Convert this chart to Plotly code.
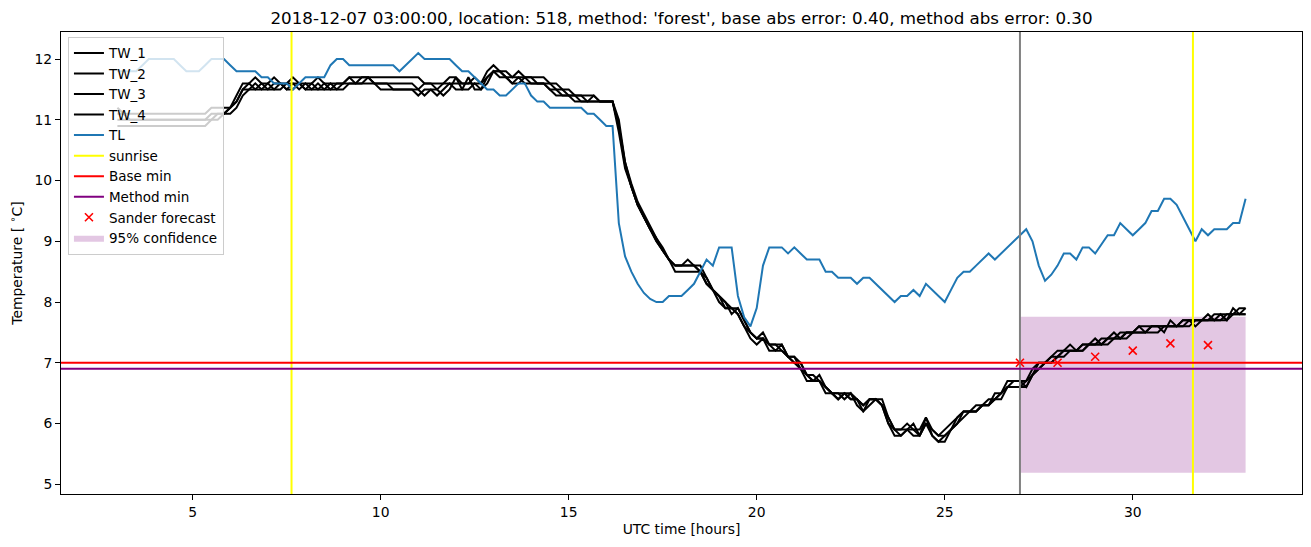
import numpy as np
import plotly.graph_objects as go

# ---------------- data ----------------
# 10-minute sampling grid, 03:00 .. 33:00 UTC hours
hours = np.round(3 + np.arange(181) / 6.0, 4)

tl = [
    11.8, 11.8, 11.8, 11.8, 11.9, 12.0,   # 3
    12.0, 12.0, 12.0, 12.0, 11.9, 11.8,   # 4
    11.8, 11.8, 11.9, 12.0, 12.0, 12.0,   # 5
    11.9, 11.8, 11.8, 11.8, 11.8, 11.7,   # 6
    11.7, 11.6, 11.6, 11.6, 11.5, 11.6,   # 7
    11.7, 11.7, 11.7, 11.7, 11.9, 12.0,   # 8
    12.0, 11.9, 11.9, 11.9, 11.9, 11.9,   # 9
    11.9, 11.9, 11.9, 11.8, 11.9, 12.0,   # 10
    12.1, 12.0, 12.0, 12.0, 12.0, 12.0,   # 11
    11.9, 11.8, 11.8, 11.7, 11.6, 11.5,   # 12
    11.5, 11.4, 11.4, 11.5, 11.6, 11.6,   # 13
    11.4, 11.3, 11.3, 11.2, 11.2, 11.2,   # 14
    11.2, 11.2, 11.2, 11.1, 11.1, 11.0,   # 15
    10.9, 10.9, 9.3, 8.75, 8.5, 8.3,      # 16
    8.15, 8.05, 8.0, 8.0, 8.1, 8.1,       # 17
    8.1, 8.2, 8.3, 8.5, 8.7, 8.6,         # 18
    8.9, 8.9, 8.9, 8.1, 7.75, 7.6,        # 19
    7.9, 8.6, 8.9, 8.9, 8.9, 8.8,         # 20
    8.9, 8.8, 8.7, 8.7, 8.7, 8.5,         # 21
    8.5, 8.4, 8.4, 8.4, 8.3, 8.4,         # 22
    8.4, 8.3, 8.2, 8.1, 8.0, 8.1,         # 23
    8.1, 8.2, 8.1, 8.3, 8.2, 8.1,         # 24
    8.0, 8.2, 8.4, 8.5, 8.5, 8.6,         # 25
    8.7, 8.8, 8.7, 8.8, 8.9, 9.0,         # 26
    9.1, 9.2, 9.0, 8.6, 8.35, 8.45,       # 27
    8.6, 8.8, 8.8, 8.7, 8.9, 8.9,         # 28
    8.8, 8.95, 9.1, 9.1, 9.3, 9.2,        # 29
    9.1, 9.2, 9.3, 9.5, 9.5, 9.7,         # 30
    9.7, 9.6, 9.4, 9.2, 9.0, 9.2,         # 31
    9.1, 9.2, 9.2, 9.2, 9.3, 9.3,         # 32
    9.7,                                  # 33
]

tw_1 = [
    11.2, 11.1, 11.1, 11.1, 11.1, 11.1,
    11.1, 11.1, 11.1, 11.1, 11.1, 11.1,
    11.1, 11.1, 11.1, 11.2, 11.2, 11.2,
    11.2, 11.4, 11.6, 11.6, 11.7, 11.6,
    11.6, 11.7, 11.6, 11.6, 11.7, 11.6,
    11.6, 11.6, 11.7, 11.6, 11.6, 11.6,
    11.6, 11.7, 11.7, 11.7, 11.7, 11.7,
    11.7, 11.7, 11.7, 11.7, 11.7, 11.7,
    11.7, 11.6, 11.6, 11.6, 11.6, 11.7,
    11.7, 11.6, 11.6, 11.7, 11.6, 11.8,
    11.9, 11.8, 11.8, 11.7, 11.8, 11.7,
    11.7, 11.7, 11.7, 11.6, 11.6, 11.5,
    11.5, 11.4, 11.4, 11.4, 11.4, 11.3,
    11.3, 11.3, 11.0, 10.3, 9.9, 9.6,
    9.4, 9.2, 9.0, 8.85, 8.7, 8.6,
    8.6, 8.6, 8.6, 8.5, 8.3, 8.2,
    8.1, 8.0, 7.9, 7.9, 7.7, 7.5,
    7.4, 7.5, 7.3, 7.3, 7.3, 7.1,
    7.1, 6.9, 6.7, 6.7, 6.8, 6.6,
    6.5, 6.4, 6.5, 6.5, 6.4, 6.3,
    6.4, 6.4, 6.4, 6.1, 5.9, 5.9,
    6.0, 5.9, 5.9, 6.1, 5.9, 5.8,
    5.9, 6.0, 6.1, 6.2, 6.2, 6.2,
    6.3, 6.3, 6.5, 6.5, 6.7, 6.7,
    6.7, 6.7, 6.9, 7.0, 7.0, 7.1,
    7.2, 7.2, 7.2, 7.2, 7.3, 7.3,
    7.3, 7.4, 7.4, 7.4, 7.5, 7.5,
    7.5, 7.6, 7.6, 7.6, 7.6, 7.6,
    7.6, 7.6, 7.7, 7.7, 7.7, 7.7,
    7.7, 7.8, 7.8, 7.8, 7.8, 7.9,
    7.9,
]

tw_2 = [
    11.1, 11.1, 11.0, 11.0, 11.0, 11.0,
    11.0, 11.0, 11.0, 11.0, 11.0, 11.0,
    11.0, 11.0, 11.0, 11.1, 11.1, 11.1,
    11.2, 11.3, 11.5, 11.6, 11.5, 11.6,
    11.5, 11.6, 11.6, 11.5, 11.6, 11.6,
    11.5, 11.6, 11.5, 11.5, 11.6, 11.5,
    11.6, 11.6, 11.6, 11.7, 11.7, 11.6,
    11.6, 11.6, 11.6, 11.6, 11.6, 11.6,
    11.5, 11.6, 11.6, 11.5, 11.6, 11.6,
    11.6, 11.6, 11.6, 11.6, 11.6, 11.7,
    11.8, 11.8, 11.7, 11.7, 11.7, 11.7,
    11.7, 11.6, 11.6, 11.6, 11.5, 11.5,
    11.4, 11.4, 11.4, 11.3, 11.3, 11.3,
    11.3, 11.3, 10.9, 10.3, 9.95, 9.65,
    9.45, 9.25, 9.05, 8.9, 8.7, 8.6,
    8.6, 8.6, 8.6, 8.6, 8.4, 8.2,
    8.1, 7.9, 7.9, 7.8, 7.6, 7.5,
    7.4, 7.4, 7.3, 7.2, 7.3, 7.1,
    7.0, 7.0, 6.8, 6.7, 6.7, 6.6,
    6.5, 6.5, 6.5, 6.4, 6.4, 6.3,
    6.4, 6.4, 6.3, 6.0, 5.9, 5.9,
    5.9, 5.9, 5.8, 6.0, 5.9, 5.8,
    5.8, 5.9, 6.1, 6.2, 6.2, 6.2,
    6.3, 6.3, 6.4, 6.5, 6.6, 6.6,
    6.6, 6.7, 6.8, 7.0, 7.0, 7.0,
    7.1, 7.2, 7.2, 7.2, 7.2, 7.3,
    7.3, 7.3, 7.4, 7.4, 7.4, 7.5,
    7.5, 7.5, 7.5, 7.6, 7.6, 7.6,
    7.6, 7.6, 7.6, 7.7, 7.7, 7.7,
    7.7, 7.7, 7.7, 7.8, 7.8, 7.8,
    7.8,
]

tw_3 = [
    10.9, 10.9, 10.9, 10.9, 10.9, 10.9,
    10.9, 10.9, 10.9, 10.9, 10.9, 10.9,
    10.9, 10.9, 10.9, 11.0, 11.0, 11.1,
    11.1, 11.2, 11.4, 11.5, 11.5, 11.5,
    11.5, 11.5, 11.6, 11.5, 11.5, 11.6,
    11.5, 11.5, 11.5, 11.6, 11.5, 11.5,
    11.5, 11.6, 11.6, 11.6, 11.6, 11.6,
    11.5, 11.5, 11.5, 11.5, 11.5, 11.5,
    11.4, 11.5, 11.5, 11.4, 11.5, 11.6,
    11.5, 11.5, 11.7, 11.5, 11.5, 11.6,
    11.8, 11.7, 11.7, 11.6, 11.6, 11.7,
    11.6, 11.6, 11.6, 11.5, 11.5, 11.4,
    11.4, 11.3, 11.3, 11.3, 11.3, 11.3,
    11.3, 11.3, 10.8, 10.2, 9.9, 9.6,
    9.4, 9.2, 9.0, 8.85, 8.7, 8.5,
    8.5, 8.5, 8.5, 8.5, 8.4, 8.2,
    8.0, 7.9, 7.9, 7.8, 7.6, 7.4,
    7.3, 7.4, 7.2, 7.2, 7.2, 7.1,
    7.0, 6.9, 6.8, 6.7, 6.7, 6.5,
    6.5, 6.4, 6.5, 6.4, 6.4, 6.2,
    6.3, 6.4, 6.3, 6.0, 5.8, 5.8,
    5.9, 5.8, 5.8, 6.0, 5.8, 5.7,
    5.7, 5.9, 6.0, 6.1, 6.2, 6.2,
    6.3, 6.3, 6.4, 6.4, 6.6, 6.6,
    6.6, 6.6, 6.8, 6.9, 7.0, 7.0,
    7.1, 7.1, 7.2, 7.2, 7.2, 7.3,
    7.3, 7.3, 7.3, 7.4, 7.4, 7.4,
    7.5, 7.5, 7.5, 7.5, 7.5, 7.6,
    7.6, 7.6, 7.6, 7.6, 7.7, 7.7,
    7.7, 7.7, 7.7, 7.7, 7.8, 7.8,
    7.8,
]

tw_4 = [
    11.0, 11.0, 11.0, 11.0, 11.0, 11.0,
    11.0, 11.0, 11.0, 11.0, 11.0, 11.0,
    11.0, 11.0, 11.0, 11.0, 11.1, 11.1,
    11.2, 11.3, 11.5, 11.5, 11.6, 11.5,
    11.6, 11.5, 11.5, 11.6, 11.6, 11.5,
    11.6, 11.5, 11.6, 11.5, 11.5, 11.6,
    11.6, 11.7, 11.6, 11.6, 11.7, 11.6,
    11.6, 11.6, 11.5, 11.5, 11.5, 11.5,
    11.5, 11.4, 11.5, 11.5, 11.4, 11.5,
    11.7, 11.5, 11.5, 11.6, 11.5, 11.7,
    11.8, 11.8, 11.7, 11.6, 11.7, 11.6,
    11.6, 11.6, 11.6, 11.5, 11.4, 11.4,
    11.4, 11.4, 11.3, 11.3, 11.4, 11.3,
    11.3, 11.3, 10.9, 10.25, 9.9, 9.6,
    9.4, 9.2, 9.05, 8.85, 8.7, 8.6,
    8.6, 8.7, 8.6, 8.5, 8.3, 8.2,
    8.1, 8.0, 7.8, 7.9, 7.7, 7.5,
    7.4, 7.4, 7.3, 7.3, 7.2, 7.1,
    7.1, 7.0, 6.8, 6.8, 6.7, 6.6,
    6.5, 6.5, 6.4, 6.5, 6.3, 6.2,
    6.4, 6.4, 6.3, 6.1, 5.9, 5.8,
    5.9, 6.0, 5.8, 6.1, 5.8, 5.7,
    5.8, 5.9, 6.0, 6.2, 6.2, 6.3,
    6.3, 6.4, 6.4, 6.5, 6.6, 6.7,
    6.7, 6.6, 6.8, 6.9, 7.0, 7.1,
    7.1, 7.2, 7.3, 7.2, 7.3, 7.3,
    7.4, 7.3, 7.4, 7.5, 7.4, 7.5,
    7.5, 7.6, 7.5, 7.6, 7.6, 7.5,
    7.7, 7.6, 7.7, 7.7, 7.6, 7.7,
    7.8, 7.7, 7.8, 7.7, 7.9, 7.8,
    7.9,
]

sunrise_hours = [7.63, 31.6]
forecast_time = 27.0
base_min = 7.0
method_min = 6.9

forecast_hours = [27, 28, 29, 30, 31, 32]
forecast_values = [7.0, 7.0, 7.1, 7.2, 7.32, 7.29]

conf_hours = [27.0, 33.0]
conf_lower = [5.19, 5.19]
conf_upper = [7.76, 7.76]

title = ("2018-12-07 03:00:00, location: 518, method: 'forest', "
         "base abs error: 0.40, method abs error: 0.30")

for s in (tl, tw_1, tw_2, tw_3, tw_4):
    assert len(s) == len(hours), len(s)

# ---------------- figure ----------------
FONT = "DejaVu Sans"
FS = 13.9
fig = go.Figure()

# confidence band (drawn first, beneath lines)
fig.add_trace(go.Scatter(x=conf_hours, y=conf_lower, mode="lines",
                         line=dict(width=0, color="rgba(0,0,0,0)"),
                         showlegend=False, hoverinfo="skip"))
fig.add_trace(go.Scatter(x=conf_hours, y=conf_upper, mode="lines",
                         line=dict(width=0, color="rgba(0,0,0,0)"),
                         fill="tonexty", fillcolor="rgba(128,0,128,0.22)",
                         name="95% confidence", legendrank=10))

for i, s in enumerate([tw_1, tw_2, tw_3, tw_4]):
    fig.add_trace(go.Scatter(x=hours, y=s, mode="lines", name=f"TW_{i+1}",
                             line=dict(color="black", width=2),
                             legendrank=i + 1))

fig.add_trace(go.Scatter(x=hours, y=tl, mode="lines", name="TL",
                         line=dict(color="#1f77b4", width=2), legendrank=5))

# legend proxies for reference lines
fig.add_trace(go.Scatter(x=[None], y=[None], mode="lines", name="sunrise",
                         line=dict(color="yellow", width=2), legendrank=6))
fig.add_trace(go.Scatter(x=[None], y=[None], mode="lines", name="Base min",
                         line=dict(color="red", width=2), legendrank=7))
fig.add_trace(go.Scatter(x=[None], y=[None], mode="lines", name="Method min",
                         line=dict(color="purple", width=2), legendrank=8))

for h in sunrise_hours:
    fig.add_vline(x=h, line=dict(color="yellow", width=2), layer="above")
fig.add_vline(x=forecast_time, line=dict(color="grey", width=2), layer="above")
fig.add_hline(y=base_min, line=dict(color="red", width=2), layer="above")
fig.add_hline(y=method_min, line=dict(color="purple", width=2), layer="above")

fig.add_trace(go.Scatter(x=forecast_hours, y=forecast_values, mode="markers",
                         name="Sander forecast", legendrank=9,
                         marker=dict(symbol="x-thin", size=8, color="red",
                                     line=dict(width=1.6, color="red"))))

axis_common = dict(showline=True, mirror=True, linecolor="black", linewidth=1,
                   ticks="outside", ticklen=5, tickwidth=1, tickcolor="black",
                   showgrid=False, zeroline=False,
                   tickfont=dict(family=FONT, size=FS, color="black"))

fig.update_layout(
    width=1311, height=547,
    margin=dict(l=61, r=9, t=32, b=53),
    paper_bgcolor="white", plot_bgcolor="white",
    font=dict(family=FONT, size=FS, color="black"),
    title=dict(text=title, x=0.5, xref="paper", xanchor="center",
               y=1 - 18 / 547, yref="container", yanchor="middle",
               font=dict(family=FONT, size=16.7, color="black")),
    xaxis=dict(range=[1.5, 34.5], tickvals=[5, 10, 15, 20, 25, 30],
               title=dict(text="UTC time [hours]", standoff=5,
                          font=dict(family=FONT, size=FS)),
               **axis_common),
    yaxis=dict(range=[4.84, 12.446], tickvals=[5, 6, 7, 8, 9, 10, 11, 12],
               title=dict(text="Temperature [ <sup>∘</sup>C]", standoff=8,
                          font=dict(family=FONT, size=FS)),
               **axis_common),
    legend=dict(x=0.0056, y=0.99, xanchor="left", yanchor="top",
                traceorder="normal",
                bgcolor="rgba(255,255,255,0.8)", bordercolor="#cccccc",
                borderwidth=1, font=dict(family=FONT, size=13.5),
                tracegroupgap=0, itemwidth=30),
    showlegend=True,
)

fig.write_html("out.html")
